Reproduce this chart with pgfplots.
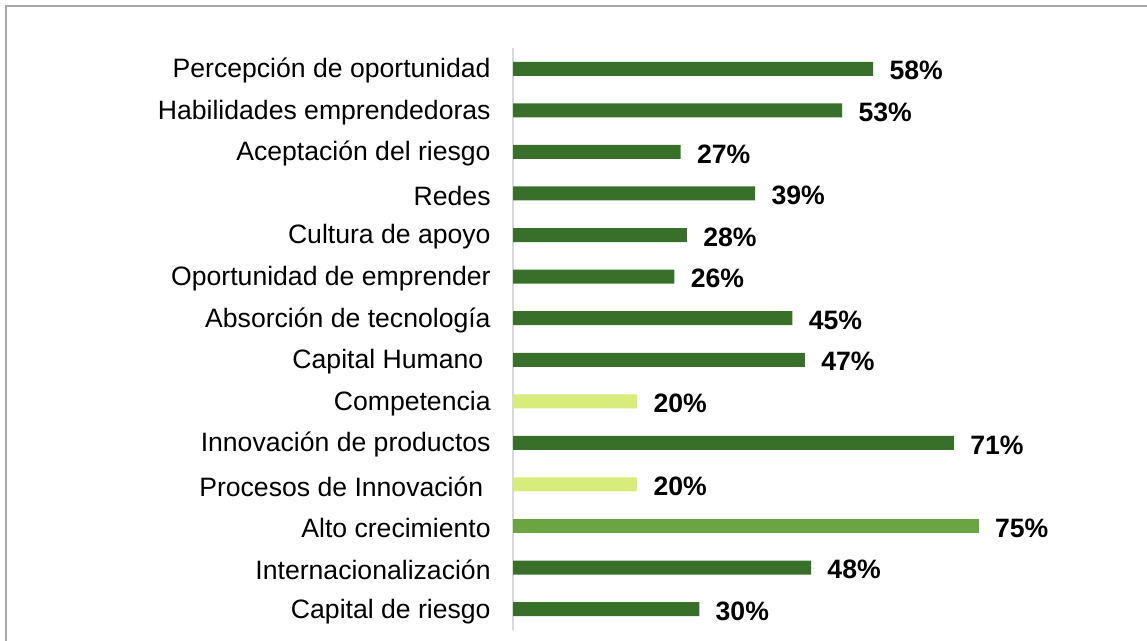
\documentclass[border=0pt]{standalone}
\usepackage{fontspec}
\setmainfont{Liberation Sans}
\usepackage{pgfplots}
\pgfplotsset{compat=1.18}
\definecolor{darkgr}{HTML}{38702A}
\definecolor{midgr}{HTML}{6AA443}
\definecolor{lightgr}{HTML}{D7EC7A}
\definecolor{framegr}{HTML}{A6A6A6}
\definecolor{axisgr}{HTML}{D9D9D9}
\begin{document}
\begin{tikzpicture}
\path[use as bounding box] (0,0) rectangle (573.5pt,320.5pt);
\draw[framegr,line width=0.8pt] (3pt,0) -- (3pt,317.5pt) -- (573.5pt,317.5pt);
\begin{axis}[
  at={(256.5pt,5.5pt)}, anchor=south west,
  scale only axis, width=310.5pt, height=291pt,
  xbar, bar width=7pt, bar shift=0pt,
  xmin=0, xmax=100, ymin=-0.5, ymax=13.5, y dir=reverse,
  axis x line=none, axis y line*=left,
  y axis line style={axisgr,line width=0.8pt,-},
  ytick={0,...,13}, major tick length=0pt,
  yticklabels={Percepción de oportunidad,Habilidades emprendedoras,Aceptación del riesgo,Redes,Cultura de apoyo,Oportunidad de emprender,Absorción de tecnología,Capital Humano\kern0.278em,Competencia,Innovación de productos,Procesos de Innovación\kern0.278em,Alto crecimiento,Internacionalización,Capital de riesgo},
  yticklabel style={font=\fontsize{13.3}{16}\selectfont, inner sep=0pt, xshift=-11pt, yshift=-1pt},
  /pgf/number format/assume math mode=true,
  nodes near coords={\pgfmathprintnumber{\pgfplotspointmeta}\%},
  every node near coord/.append style={font=\fontsize{13.3}{16}\selectfont\bfseries, anchor=west, inner sep=0pt, xshift=8pt, yshift=-1pt},
  clip=false,
]
\addplot[fill=darkgr,draw=none] coordinates {(58,0) (53,1) (27,2) (39,3) (28,4) (26,5) (45,6) (47,7) (71,9) (48,12) (30,13)};
\addplot[fill=lightgr,draw=none] coordinates {(20,8) (20,10)};
\addplot[fill=midgr,draw=none] coordinates {(75,11)};
\end{axis}
\end{tikzpicture}
\end{document}
